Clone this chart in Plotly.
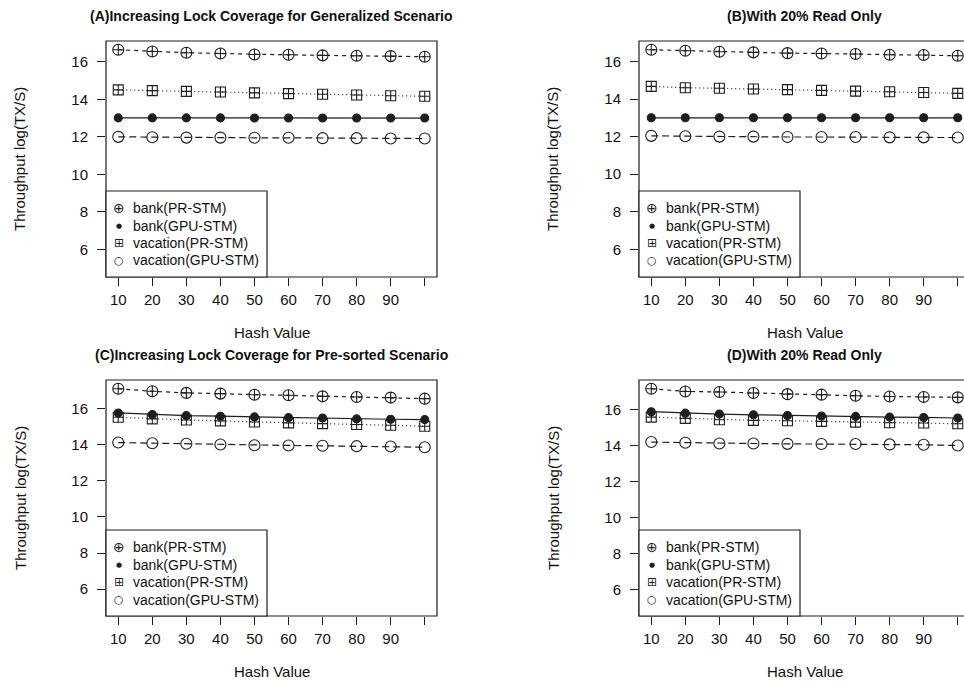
import plotly.graph_objects as go

# ---- data -------------------------------------------------------------
hash_values = [10, 20, 30, 40, 50, 60, 70, 80, 90, 100]
x_tick_text = ["10", "20", "30", "40", "50", "60", "70", "80", "90", ""]
y_tick_values = [6, 8, 10, 12, 14, 16]

series_names = ["bank(PR-STM)", "bank(GPU-STM)", "vacation(PR-STM)", "vacation(GPU-STM)"]

panel_titles = [
    "(A)Increasing Lock Coverage for Generalized Scenario",
    "(B)With 20% Read Only",
    "(C)Increasing Lock Coverage for Pre-sorted Scenario",
    "(D)With 20% Read Only",
]

# (A) generalized scenario
a_bank_pr = [16.64, 16.55, 16.48, 16.44, 16.39, 16.37, 16.34, 16.32, 16.30, 16.27]
a_bank_gpu = [13.01, 13.01, 13.01, 13.01, 13.00, 13.00, 13.00, 13.00, 13.00, 13.00]
a_vac_pr = [14.50, 14.46, 14.42, 14.39, 14.34, 14.30, 14.27, 14.23, 14.19, 14.16]
a_vac_gpu = [12.00, 11.98, 11.96, 11.96, 11.95, 11.95, 11.93, 11.93, 11.91, 11.91]

# (B) generalized scenario, 20% read only
b_bank_pr = [16.62, 16.57, 16.51, 16.48, 16.44, 16.42, 16.39, 16.35, 16.34, 16.30]
b_bank_gpu = [13.00, 13.00, 13.00, 13.00, 13.00, 13.00, 13.00, 13.00, 13.00, 13.00]
b_vac_pr = [14.67, 14.60, 14.57, 14.53, 14.50, 14.46, 14.42, 14.39, 14.35, 14.30]
b_vac_gpu = [12.04, 12.02, 12.00, 12.00, 11.98, 11.98, 11.98, 11.96, 11.96, 11.95]

# (C) pre-sorted scenario
c_bank_pr = [17.10, 16.96, 16.87, 16.83, 16.77, 16.74, 16.68, 16.64, 16.61, 16.55]
c_bank_gpu = [15.76, 15.67, 15.61, 15.58, 15.54, 15.50, 15.48, 15.43, 15.41, 15.39]
c_vac_pr = [15.52, 15.43, 15.37, 15.32, 15.26, 15.21, 15.17, 15.12, 15.08, 15.02]
c_vac_gpu = [14.12, 14.08, 14.05, 14.01, 13.97, 13.96, 13.94, 13.92, 13.90, 13.86]

# (D) pre-sorted scenario, 20% read only
d_bank_pr = [17.17, 17.02, 16.99, 16.93, 16.87, 16.84, 16.78, 16.74, 16.71, 16.69]
d_bank_gpu = [15.89, 15.81, 15.76, 15.72, 15.68, 15.65, 15.63, 15.59, 15.57, 15.54]
d_vac_pr = [15.59, 15.52, 15.44, 15.41, 15.39, 15.35, 15.31, 15.28, 15.26, 15.22]
d_vac_gpu = [14.20, 14.16, 14.12, 14.12, 14.10, 14.09, 14.09, 14.07, 14.05, 14.01]

panels = [
    [a_bank_pr, a_bank_gpu, a_vac_pr, a_vac_gpu],
    [b_bank_pr, b_bank_gpu, b_vac_pr, b_vac_gpu],
    [c_bank_pr, c_bank_gpu, c_vac_pr, c_vac_gpu],
    [d_bank_pr, d_bank_gpu, d_vac_pr, d_vac_gpu],
]

# ---- styling ----------------------------------------------------------
W, H = 964, 684
FONT = "Liberation Sans, Arial, sans-serif"
SYMBOL_FONT = "DejaVu Sans"
INK = "#1e1e1e"

series_styles = [
    dict(symbol="circle-cross-open", size=11, dash="4px,4px", key="\u2295", key_size=14),
    dict(symbol="circle", size=8, dash="solid", key="\u25cf", key_size=7),
    dict(symbol="square-cross-open", size=10, dash="1px,3px", key="\u229e", key_size=12),
    dict(symbol="circle-open", size=11, dash="7px,4px", key="\u25cb", key_size=11),
]

# plot boxes in pixels: (left, right, top, bottom); right column runs off the page
boxes = [
    (106, 437, 41, 277),
    (639, 970, 41, 277),
    (106, 437, 380, 616),
    (639, 970, 380, 616),
]
LEGEND_W, LEGEND_H = 161, 86
LEGEND_ROWS = [17, 34.5, 52, 69.5]

x_lo, x_hi = min(hash_values), max(hash_values)
x_pad = 0.04 * (x_hi - x_lo)
x_full = (x_lo - x_pad, x_hi + x_pad)

fig = go.Figure()
shapes, annotations = [], []
layout_axes = {}


def px(x):
    return x / W


def py(y):
    return 1 - y / H


for i, (series, box, title) in enumerate(zip(panels, boxes, panel_titles)):
    n = i + 1
    sfx = "" if n == 1 else str(n)
    xa, ya = "x" + sfx, "y" + sfx
    left, right, top, bottom = box
    vis_right = min(right, W)
    frac = (vis_right - left) / (right - left)

    x_range = [x_full[0], x_full[0] + (x_full[1] - x_full[0]) * frac]
    y_lo = 5
    y_hi = max(max(s) for s in series)
    y_pad = 0.04 * (y_hi - y_lo)

    for name, ys, st in zip(series_names, series, series_styles):
        fig.add_trace(go.Scatter(
            x=hash_values, y=ys, mode="lines+markers", name=name,
            xaxis=xa, yaxis=ya, showlegend=False,
            line=dict(color=INK, width=1.2, dash=st["dash"]),
            marker=dict(symbol=st["symbol"], size=st["size"], color=INK,
                        line=dict(color=INK, width=1.1)),
        ))

    layout_axes["xaxis" + sfx] = dict(
        domain=[px(left), px(vis_right)], range=x_range, anchor=ya,
        tickmode="array", tickvals=hash_values, ticktext=x_tick_text,
        ticks="outside", ticklen=8, tickwidth=1, tickcolor=INK,
        ticklabelstandoff=1,
        showgrid=False, zeroline=False, showline=False,
        tickfont=dict(family=FONT, size=15, color="#111"),
    )
    layout_axes["yaxis" + sfx] = dict(
        domain=[py(bottom), py(top)], range=[y_lo - y_pad, y_hi + y_pad], anchor=xa,
        tickmode="array", tickvals=y_tick_values,
        ticks="outside", ticklen=8, tickwidth=1, tickcolor=INK,
        ticklabelstandoff=6,
        showgrid=False, zeroline=False, showline=False,
        tickfont=dict(family=FONT, size=15, color="#111"),
    )

    # frame around the plotting region
    shapes.append(dict(
        type="rect", xref=xa + " domain", yref=ya + " domain",
        x0=0, x1=(right - left) / (vis_right - left), y0=0, y1=1,
        line=dict(color=INK, width=1.2), fillcolor="rgba(0,0,0,0)", layer="above",
    ))

    # legend box in the lower-left corner of the plotting region
    lg_top = bottom - LEGEND_H
    shapes.append(dict(
        type="rect", xref="paper", yref="paper",
        x0=px(left), x1=px(left + LEGEND_W), y0=py(bottom), y1=py(lg_top),
        line=dict(color=INK, width=1.2), fillcolor="white", layer="above",
    ))
    for name, st, row in zip(series_names, series_styles, LEGEND_ROWS):
        annotations.append(dict(
            text=st["key"], x=px(left + 13), y=py(lg_top + row),
            xref="paper", yref="paper", xanchor="center", yanchor="middle",
            showarrow=False, font=dict(family=SYMBOL_FONT, size=st["key_size"], color=INK),
        ))
        annotations.append(dict(
            text=name, x=px(left + 25), y=py(lg_top + row),
            xref="paper", yref="paper", xanchor="left", yanchor="middle",
            showarrow=False, font=dict(family=FONT, size=14, color="#111"),
        ))

    cx = px((left + right) / 2)
    annotations.append(dict(
        text="<b>" + title + "</b>", x=cx, y=py(top - 25),
        xref="paper", yref="paper", xanchor="center", yanchor="middle",
        showarrow=False, font=dict(family=FONT, size=14, color="#111"),
    ))
    annotations.append(dict(
        text="Hash Value", x=cx, y=py(bottom + 55),
        xref="paper", yref="paper", xanchor="center", yanchor="middle",
        showarrow=False, font=dict(family=FONT, size=15, color="#111"),
    ))
    annotations.append(dict(
        text="Throughput log(TX/S)", x=px(left - 86), y=py((top + bottom) / 2),
        xref="paper", yref="paper", xanchor="center", yanchor="middle",
        textangle=-90, showarrow=False, font=dict(family=FONT, size=15, color="#111"),
    ))

fig.update_layout(
    width=W, height=H,
    margin=dict(l=0, r=0, t=0, b=0),
    paper_bgcolor="white", plot_bgcolor="white",
    font=dict(family=FONT, color="#111"),
    showlegend=False,
    shapes=shapes, annotations=annotations,
    **layout_axes,
)

fig.write_html("out.html")
